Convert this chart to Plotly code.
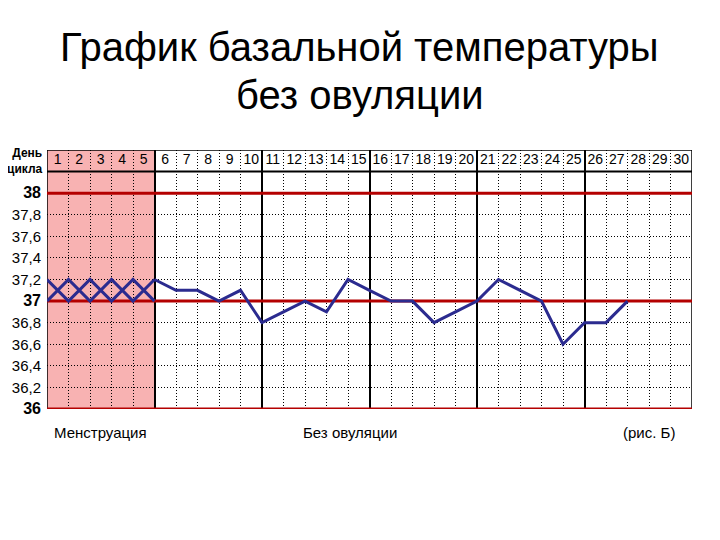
import plotly.graph_objects as go

# ---- data ----
day_labels = [str(d) for d in range(1, 31)]
days = list(range(1, 31))
temp_days = list(range(5, 28))
temps = [37.2, 37.1, 37.1, 37.0, 37.1, 36.8, 36.9, 37.0, 36.9, 37.2, 37.1,
         37.0, 37.0, 36.8, 36.9, 37.0, 37.2, 37.1, 37.0, 36.6, 36.8, 36.8, 37.0]
cross_days = [0, 1, 2, 3, 4, 5]
cross_a = [37.2, 37.0, 37.2, 37.0, 37.2, 37.0]
cross_b = [37.0, 37.2, 37.0, 37.2, 37.0, 37.2]
menses_days = 5
y_ticks = [36.0, 36.2, 36.4, 36.6, 36.8, 37.0, 37.2, 37.4, 37.6, 37.8, 38.0]
y_labels = ["36", "36,2", "36,4", "36,6", "36,8", "37", "37,2", "37,4", "37,6", "37,8", "38"]
red_levels = [36, 37, 38]
y_min, y_max = 36.0, 38.4
header_y = 38.2
x_max = 30
title_lines = ["График базальной температуры", "без овуляции"]

BLUE = "#2b2b8f"
RED = "#b40000"
PINK = "#f8b2b2"
FONT = "Liberation Sans, Arial, sans-serif"
DOT = "1px,2px"

ticktext = []
for v, lab in zip(y_ticks, y_labels):
    if abs(v - round(v)) < 1e-9:
        ticktext.append("<b><span style='font-size:16px'>" + lab + "</span></b>")
    else:
        ticktext.append(lab)

fig = go.Figure()

# crosses (menstruation days)
for ys in (cross_a, cross_b):
    fig.add_trace(go.Scatter(x=cross_days, y=ys, mode="lines",
                             line=dict(color=BLUE, width=3), hoverinfo="skip",
                             showlegend=False))

# temperature line
fig.add_trace(go.Scatter(x=temp_days, y=temps, mode="lines",
                         line=dict(color=BLUE, width=3), showlegend=False))

# day numbers in header row
fig.add_trace(go.Scatter(x=[d - 0.5 for d in days], y=[(header_y + y_max) / 2] * len(days),
                         mode="text", text=day_labels,
                         textfont=dict(family=FONT, size=14, color="black"),
                         showlegend=False, hoverinfo="skip"))

shapes = [
    dict(type="rect", xref="x", yref="y", x0=0, x1=menses_days, y0=y_min, y1=y_max,
         fillcolor=PINK, line=dict(width=0), layer="below"),
    dict(type="rect", xref="x", yref="y", x0=0, x1=x_max, y0=y_min, y1=y_max,
         line=dict(color="black", width=1.5), layer="between"),
    dict(type="line", xref="x", yref="y", x0=0, x1=x_max, y0=header_y, y1=header_y,
         line=dict(color="black", width=2), layer="between"),
]
for lv in red_levels:
    shapes.append(dict(type="line", xref="x", yref="y", x0=0, x1=x_max, y0=lv, y1=lv,
                       line=dict(color=RED, width=3), layer="between"))

annotations = [
    dict(text=title_lines[0], xref="paper", yref="paper", x=0.485, y=1.398,
         xanchor="center", yanchor="middle", showarrow=False,
         font=dict(family=FONT, size=40, color="black")),
    dict(text=title_lines[1], xref="paper", yref="paper", x=0.485, y=1.2125,
         xanchor="center", yanchor="middle", showarrow=False,
         font=dict(family=FONT, size=40, color="black")),
    dict(text="<b>День<br>цикла</b>", xref="paper", yref="y", x=0, y=(header_y + y_max) / 2,
         xanchor="right", yanchor="middle", xshift=-2, showarrow=False, align="right",
         font=dict(family=FONT, size=12, color="black")),
    dict(text="Менструация", xref="x", yref="paper", x=0.25, y=-0.089, xanchor="left",
         yanchor="middle", showarrow=False, font=dict(family=FONT, size=15, color="black")),
    dict(text="Без овуляции", xref="x", yref="paper", x=14.1, y=-0.089, xanchor="center",
         yanchor="middle", showarrow=False, font=dict(family=FONT, size=15, color="black")),
    dict(text="(рис. Б)", xref="x", yref="paper", x=28.0, y=-0.089, xanchor="center",
         yanchor="middle", showarrow=False, font=dict(family=FONT, size=15, color="black")),
]

fig.update_layout(
    width=720, height=540,
    margin=dict(l=39, r=36, t=142, b=139, autoexpand=False),
    paper_bgcolor="white", plot_bgcolor="white",
    shapes=shapes, annotations=annotations,
    xaxis=dict(range=[0, x_max], tick0=0, dtick=5, showgrid=True, gridcolor="black",
               gridwidth=1.5, zeroline=False, showticklabels=False, ticks="",
               showline=False, fixedrange=True, automargin=False,
               minor=dict(tick0=0, dtick=1, showgrid=True, gridcolor="black",
                          griddash=DOT, gridwidth=1)),
    yaxis=dict(range=[y_min, y_max], tickmode="array", tickvals=y_ticks, ticktext=ticktext,
               showgrid=True, gridcolor="black", griddash=DOT, gridwidth=1,
               zeroline=False, ticks="", showline=False, automargin=False,
               ticklabelstandoff=5,
               tickfont=dict(family=FONT, size=15, color="black"), fixedrange=True),
)

fig.write_html("out.html")
